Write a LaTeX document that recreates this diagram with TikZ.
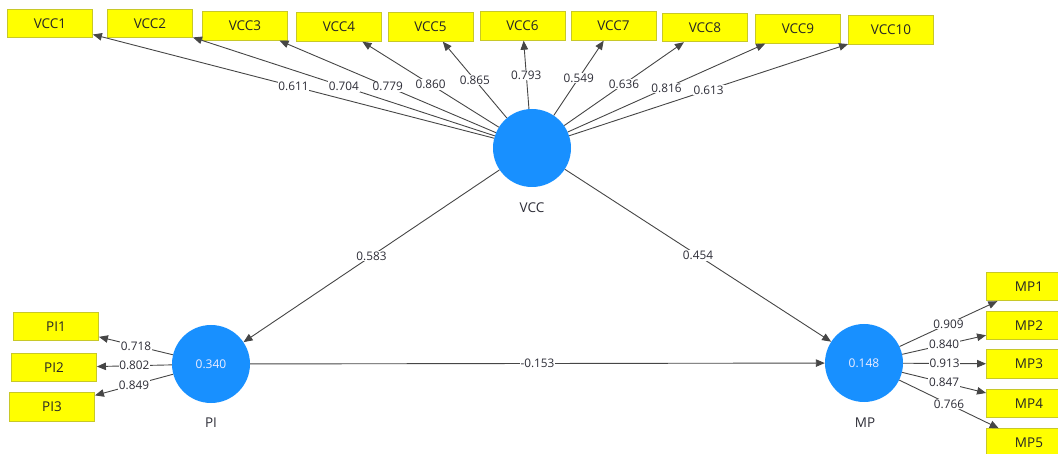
\documentclass[tikz,border=0pt]{standalone}
\usepackage{fontspec}
\setmainfont{Open Sans}
\usetikzlibrary{arrows.meta}
\definecolor{cblue}{RGB}{24,144,255}
\definecolor{byel}{RGB}{255,255,0}
\definecolor{bedge}{RGB}{200,200,40}
\definecolor{lcol}{RGB}{70,70,70}
\definecolor{tcol}{RGB}{45,45,55}
\tikzset{
  ind/.style={draw=bedge, fill=byel, line width=0.9pt, minimum width=85pt, minimum height=28.5pt, inner sep=0pt, font=\fontsize{13.5}{15}\selectfont, text=black!85},
  lv/.style={circle, fill=cblue, minimum size=78pt, inner sep=0pt, text=white!93!blue, font=\fontsize{12}{14}\selectfont},
  lvname/.style={font=\fontsize{13.5}{15}\selectfont, text=tcol},
  arr/.style={draw=lcol, line width=0.9pt, -{Triangle[length=9pt,width=7.5pt]}},
  lbl/.style={fill=white, inner sep=0.8pt, font=\fontsize{11.8}{13}\selectfont, text=tcol}
}
\begin{document}
\begin{tikzpicture}[x=1pt,y=-1pt]
\useasboundingbox (0,0) rectangle (1058,454);
% latent variables
\node[lv] (vcc) at (532,148) {};
\node[lv] (pi) at (211,364) {0.340};
\node[lv] (mp) at (864,363) {0.148};
\node[lvname] (vccn) at (532,208) {VCC};
\node[lvname] (pin) at (211,423) {PI};
\node[lvname] (mpn) at (865,422.5) {MP};
% VCC indicators
\node[ind] (v1) at (50,23.5) {VCC1};
\node[ind] (v2) at (150,23.5) {VCC2};
\node[ind] (v3) at (245,26) {VCC3};
\node[ind] (v4) at (339,27) {VCC4};
\node[ind] (v5) at (430.5,27) {VCC5};
\node[ind] (v6) at (522.5,26) {VCC6};
\node[ind] (v7) at (613.5,26) {VCC7};
\node[ind] (v8) at (705,27.5) {VCC8};
\node[ind] (v9) at (798,29) {VCC9};
\node[ind] (v10) at (891,30) {VCC10};
% PI indicators
\node[ind] (p1) at (56,326.5) {PI1};
\node[ind] (p2) at (54,367.5) {PI2};
\node[ind] (p3) at (52,407) {PI3};
% MP indicators
\node[ind] (m1) at (1029,286.5) {MP1};
\node[ind] (m2) at (1029,325.5) {MP2};
\node[ind] (m3) at (1029,364) {MP3};
\node[ind] (m4) at (1029,403.5) {MP4};
\node[ind] (m5) at (1029,443) {MP5};
% outer loadings VCC
\draw[arr] (vcc) -- node[lbl]{0.611} (v1);
\draw[arr] (vcc) -- node[lbl]{0.704} (v2);
\draw[arr] (vcc) -- node[lbl]{0.779} (v3);
\draw[arr] (vcc) -- node[lbl]{0.860} (v4);
\draw[arr] (vcc) -- node[lbl]{0.865} (v5);
\draw[arr] (vcc) -- node[lbl]{0.793} (v6);
\draw[arr] (vcc) -- node[lbl]{0.549} (v7);
\draw[arr] (vcc) -- node[lbl]{0.636} (v8);
\draw[arr] (vcc) -- node[lbl]{0.816} (v9);
\draw[arr] (vcc) -- node[lbl]{0.613} (v10);
% PI loadings
\draw[arr] (pi) -- node[lbl]{0.718} (p1);
\draw[arr] (pi) -- node[lbl]{0.802} (p2);
\draw[arr] (pi) -- node[lbl]{0.849} (p3);
% MP loadings
\draw[arr] (mp) -- node[lbl]{0.909} (m1);
\draw[arr] (mp) -- node[lbl]{0.840} (m2);
\draw[arr] (mp) -- node[lbl]{0.913} (m3);
\draw[arr] (mp) -- node[lbl]{0.847} (m4);
\draw[arr] (mp) -- node[lbl]{0.766} (m5);
% structural paths
\draw[arr] (vcc) -- node[lbl]{0.583} (pi);
\draw[arr] (vcc) -- node[lbl]{0.454} (mp);
\draw[arr] (pi) -- node[lbl]{-0.153} (mp);
\end{tikzpicture}
\end{document}
